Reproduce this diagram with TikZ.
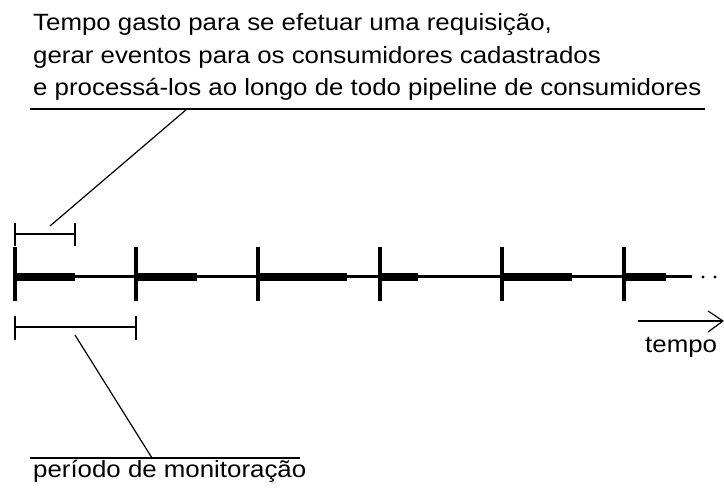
\documentclass[tikz,border=0pt]{standalone}
\usepackage{fontspec}
\setmainfont{Liberation Sans}[FakeStretch=1.1]
\begin{document}
\begin{tikzpicture}[x=1pt,y=-1pt,
  lbl/.style={anchor=base west,inner sep=0pt,font=\fontsize{23.5}{30}\selectfont},
  thin/.style={line width=1.2pt},
  axis/.style={line width=3pt},
  tickmark/.style={line width=3.5pt},
  busy/.style={line width=7.5pt}]
\useasboundingbox (0,0) rectangle (724,489);
% top text
\node[lbl] (t1) at (33,31) {Tempo gasto para se efetuar uma requisição,};
\node[lbl] (t2) at (33,63.5) {gerar eventos para os consumidores cadastrados};
\node[lbl] (t3) at (33,96) {e processá-los ao longo de todo pipeline de consumidores};
\coordinate (r1a) at (30,109);
\coordinate (r1b) at (705,109);
\draw[thin] (r1a) -- (r1b);
\coordinate (l1a) at (187,109);
\coordinate (l1b) at (50,226);
\draw[thin] (l1a) -- (l1b);
% small bracket
\coordinate (sb1) at (15,234);
\coordinate (sb2) at (75,234);
\draw[thin] (sb1) -- (sb2);
\draw[thin] ([yshift=-12]sb1) -- ([yshift=11]sb1);
\draw[thin] ([yshift=-12]sb2) -- ([yshift=11]sb2);
% main axis
\coordinate (a0) at (15,277);
\coordinate (a1) at (692,277);
\draw[axis] (a0) -- (a1);
\foreach \x/\w [count=\i] in {15/60, 136/61, 258/89, 380/38, 502/70, 624/42}{
  \coordinate (k\i) at (\x,277);
  \draw[busy] (k\i) -- ++(\w,0);
  \draw[tickmark] ([yshift=-24]k\i) -- ([yshift=30]k\i);
}
\coordinate (d1) at (703,277);
\coordinate (d2) at (715,277);
\fill (d1) circle (1.7);
\fill (d2) circle (1.7);
% period bracket
\coordinate (pb1) at (15,327);
\coordinate (pb2) at (136,327);
\draw[thin] (pb1) -- (pb2);
\draw[thin] ([yshift=-13]pb1) -- ([yshift=11]pb1);
\draw[thin] ([yshift=-13]pb2) -- ([yshift=11]pb2);
\coordinate (l2a) at (75,335);
\coordinate (l2b) at (152,458);
\draw[thin] (l2a) -- (l2b);
\coordinate (r2a) at (30,458);
\coordinate (r2b) at (300,458);
\draw[thin] (r2a) -- (r2b);
\node[lbl] (pm) at (33,478) {período de monitoração};
% time arrow
\coordinate (ta) at (638,321);
\coordinate (tb) at (723,321);
\draw[thin] (ta) -- (tb);
\draw[thin] (708,311) -- (tb) -- (708,332);
\node[lbl] (tp) at (645,353) {tempo};
\end{tikzpicture}
\end{document}
